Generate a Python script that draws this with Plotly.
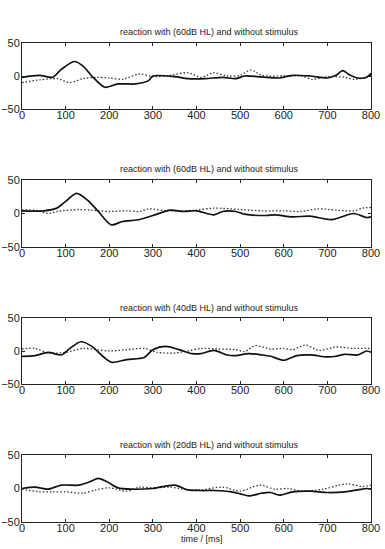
import plotly.graph_objects as go
from plotly.subplots import make_subplots

# ---------------- data ----------------
titles = [
    "reaction with (60dB HL) and without stimulus",
    "reaction with (60dB HL) and without stimulus",
    "reaction with (40dB HL) and without stimulus",
    "reaction with (20dB HL) and without stimulus",
]

p1_solid_t = [0, 40, 70, 90, 120, 140, 160, 190, 220, 260, 290, 300, 350, 380, 420, 460, 490, 510, 560, 590, 620, 660, 700, 720, 735, 750, 770, 790, 800]
p1_solid_v = [-2, 1, -2, 10, 22, 15, 0, -17, -12, -12, -7, 0, -1, -4, -4, -2, -4, 0, -2, -3, 1, 0, -3, 1, 8, 2, -3, -2, 4]
p1_dot_t = [0, 40, 80, 110, 140, 170, 200, 230, 270, 300, 340, 380, 410, 440, 470, 500, 525, 550, 600, 640, 665, 700, 740, 760, 790, 800]
p1_dot_v = [-10, -6, -4, -10, -4, -2, -3, -5, 3, -1, 1, 5, -2, 5, 0, 1, 9, 1, 0, 0, -5, -1, -2, -5, -2, 1]

p2_solid_t = [0, 50, 80, 100, 125, 150, 175, 205, 230, 270, 300, 340, 370, 400, 440, 460, 490, 510, 560, 580, 620, 660, 710, 760, 790, 800]
p2_solid_v = [4, 4, 8, 18, 30, 20, 3, -17, -12, -9, -3, 5, 3, 4, -2, 3, 3, -1, -3, -2, -5, -4, -9, 0, -6, -5]
p2_dot_t = [0, 30, 60, 80, 130, 160, 200, 240, 270, 290, 330, 400, 440, 500, 550, 600, 640, 680, 720, 760, 780, 800]
p2_dot_v = [5, 5, 0, 3, 6, 5, 3, 4, 3, 7, 4, 5, 8, 6, 4, 4, 3, 7, 5, 4, 8, 9]

p3_solid_t = [0, 30, 60, 90, 110, 135, 160, 185, 205, 240, 280, 300, 330, 360, 390, 410, 440, 470, 490, 520, 550, 570, 600, 630, 660, 700, 720, 740, 770, 790, 800]
p3_solid_v = [-8, -7, -2, -6, 4, 14, 7, -8, -17, -13, -10, 2, 7, 2, -4, -4, 1, -6, -7, -4, -6, -8, -14, -7, -6, -9, -8, -5, -6, 0, -2]
p3_dot_t = [0, 30, 60, 100, 140, 170, 200, 240, 280, 310, 350, 380, 410, 450, 490, 510, 535, 570, 600, 620, 650, 680, 720, 760, 800]
p3_dot_v = [3, 4, -3, -2, 4, 2, 0, 2, 4, -2, -3, 0, 4, 3, 2, -1, 8, 3, 4, 2, 9, 1, 6, 4, 4]

p4_solid_t = [0, 30, 60, 90, 130, 155, 175, 195, 220, 250, 300, 350, 380, 410, 440, 480, 500, 520, 550, 570, 590, 620, 660, 700, 740, 770, 790, 800]
p4_solid_v = [0, 2, -1, 5, 5, 10, 15, 10, 1, -1, 0, 5, -2, -3, -3, -5, -8, -11, -7, -6, -10, -5, -4, -6, -5, -2, 0, -1]
p4_dot_t = [0, 40, 70, 100, 140, 170, 200, 240, 270, 300, 340, 380, 410, 460, 500, 545, 580, 610, 640, 690, 745, 780, 800]
p4_dot_v = [-1, -5, -5, -5, -7, -2, 1, -4, 2, 1, 2, -2, -2, 2, -4, 5, -1, 0, -4, -1, 7, 3, 5]

solid = [(p1_solid_t, p1_solid_v), (p2_solid_t, p2_solid_v), (p3_solid_t, p3_solid_v), (p4_solid_t, p4_solid_v)]
dotted = [(p1_dot_t, p1_dot_v), (p2_dot_t, p2_dot_v), (p3_dot_t, p3_dot_v), (p4_dot_t, p4_dot_v)]

x_ticks = [0, 100, 200, 300, 400, 500, 600, 700, 800]
y_ticks = [-50, 0, 50]
x_label = "time / [ms]"

# ---------------- layout ----------------
W, H = 385, 549
left_px, right_px = 22, 371
panels_px = [(43, 109), (180, 247), (318, 384), (455, 522)]
title_y_px = [32, 169, 308, 445]
title_x_px = 210

fig = make_subplots(rows=4, cols=1)
font = "Liberation Sans, Arial, sans-serif"

for i in range(4):
    r = i + 1
    fig.add_trace(go.Scatter(x=dotted[i][0], y=dotted[i][1], mode="lines",
                             line=dict(color="#333", width=1.3, dash="1.5px,2px", shape="spline", smoothing=0.8),
                             showlegend=False), row=r, col=1)
    fig.add_trace(go.Scatter(x=solid[i][0], y=solid[i][1], mode="lines",
                             line=dict(color="#111", width=1.7, shape="spline", smoothing=0.8),
                             showlegend=False), row=r, col=1)
    top, bot = panels_px[i]
    fig.update_xaxes(domain=[left_px / W, right_px / W], range=[0, 800], tickvals=x_ticks,
                     ticks="inside", ticklen=3, tickcolor="#222", showline=True, linecolor="#222",
                     linewidth=1, mirror="ticks", showgrid=False, zeroline=False, automargin=False,
                     ticklabelstandoff=-4,
                     tickfont=dict(family=font, size=11, color="#222"), row=r, col=1)
    fig.update_yaxes(domain=[1 - bot / H, 1 - top / H], range=[-50, 50], tickvals=y_ticks,
                     ticks="inside", ticklen=3, tickcolor="#222", showline=True, linecolor="#222",
                     linewidth=1, mirror="ticks", showgrid=False, zeroline=False, automargin=False,
                     ticklabelstandoff=-1,
                     tickfont=dict(family=font, size=11, color="#222"), row=r, col=1)
    fig.add_annotation(text=titles[i], x=title_x_px / W, y=1 - title_y_px[i] / H,
                       xref="paper", yref="paper", showarrow=False, xanchor="center", yanchor="middle",
                       font=dict(family=font, size=9, color="#222"))

fig.add_annotation(text=x_label, x=202 / W, y=1 - 539 / H, xref="paper", yref="paper",
                   showarrow=False, xanchor="center", yanchor="middle",
                   font=dict(family=font, size=9, color="#222"))

fig.update_layout(width=W, height=H, margin=dict(l=0, r=0, t=0, b=0),
                  paper_bgcolor="white", plot_bgcolor="white")

fig.write_html("out.html")
